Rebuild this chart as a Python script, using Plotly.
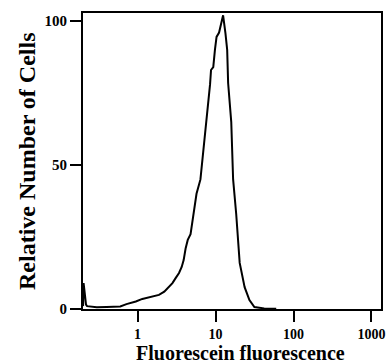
import math
import plotly.graph_objects as go

# Fluorescence histogram (x: fluorescein intensity, log scale; y: relative cell number)
fluorescence = [0.200, 0.203, 0.207, 0.212, 0.218, 0.225, 0.25, 0.3, 0.4, 0.5, 0.6,
                0.72, 0.8, 0.95, 1.15, 1.4, 1.65, 1.88, 2.2, 2.52, 2.8, 3.09, 3.4,
                3.68, 3.9, 4.13, 4.4, 4.78, 5.22, 5.7, 6.4, 6.98, 7.7, 8.25, 8.5,
                8.75, 9.35, 9.82, 10.3, 11.1, 12.2, 12.5, 13.4, 14.1, 14.5, 15.5,
                15.9, 16.8, 18.4, 20.4, 23.6, 27.2, 31.5, 42, 60]
rel_cells = [1.0, 9.0, 7.0, 3.0, 1.5, 1.0, 0.8, 0.6, 0.7, 0.8, 0.9,
             1.7, 2.0, 2.6, 3.5, 4.0, 4.5, 4.9, 6.0, 7.7, 9.0, 10.8, 12.5,
             14.6, 17.0, 21.0, 24.0, 26.0, 33.0, 40.0, 45.0, 55.0, 67.0, 72.6, 78.0,
             83.0, 84.0, 90.0, 94.5, 96.0, 101.0, 102.0, 95.7, 90.0, 78.5, 69.0,
             65.0, 45.0, 33.0, 16.0, 7.6, 3.1, 0.7, 0.2, 0.1]

x_ticks = [1, 10, 100, 1000]
x_tick_text = ["1", "10", "100", "1000"]
y_ticks = [0, 50, 100]
y_tick_text = ["0", "50", "100"]
x_title = "Fluorescein fluorescence"
y_title = "Relative Number of Cells"

X_RANGE = [-0.700, 3.122]   # log10 units
Y_RANGE = [0, 102.8]

x_minor = [m * d for d in (0.1, 1, 10, 100) for m in range(2, 10) if m * d >= 0.3]
y_minor = [i * 6.25 for i in range(17)]

FONT = "Liberation Serif"
PLOT_W, PLOT_H = 389 - 83 - 4, 364 - 13 - 55
PX_PER_DECADE = PLOT_W / (X_RANGE[1] - X_RANGE[0])
PX_PER_UNIT = PLOT_H / (Y_RANGE[1] - Y_RANGE[0])


def x_tick_len(v):
    if v in x_ticks:
        return 14
    if abs(math.log10(v) % 1 - math.log10(5)) < 1e-6:
        return 8
    return 5


def y_tick_len(v):
    if v % 50 == 0:
        return 11
    if v % 25 == 0:
        return 13
    if v % 12.5 == 0:
        return 8
    return 4


# tick marks drawn as line-shaped markers (not clipped) centred half a length outside the axis
xt_vals = x_ticks + x_minor
xt_len = [x_tick_len(v) for v in xt_vals]
xt_y = [Y_RANGE[0] - L / 2 / PX_PER_UNIT for L in xt_len]

yt_vals = y_minor
yt_len = [y_tick_len(v) for v in yt_vals]
yt_x = [10 ** (X_RANGE[0] - L / 2 / PX_PER_DECADE) for L in yt_len]

fig = go.Figure()
fig.add_trace(go.Scatter(x=fluorescence, y=rel_cells, mode="lines",
                         line=dict(color="black", width=2), showlegend=False))
fig.add_trace(go.Scatter(x=xt_vals, y=xt_y, mode="markers", cliponaxis=False,
                         hoverinfo="skip", showlegend=False,
                         marker=dict(symbol="line-ns-open", size=xt_len, color="black",
                                     line=dict(color="black", width=2))))
fig.add_trace(go.Scatter(x=yt_x, y=yt_vals, mode="markers", cliponaxis=False,
                         hoverinfo="skip", showlegend=False,
                         marker=dict(symbol="line-ew-open", size=yt_len, color="black",
                                     line=dict(color="black", width=2))))

fig.update_layout(
    template="simple_white",
    width=389, height=364,
    margin=dict(l=83, r=4, t=13, b=55),
    paper_bgcolor="white", plot_bgcolor="white",
    font=dict(family=FONT, color="black"),
    xaxis=dict(
        type="log", range=X_RANGE,
        showline=True, linewidth=2, linecolor="black", mirror=True,
        showgrid=False, zeroline=False,
        tickvals=x_ticks, ticktext=x_tick_text,
        ticks="outside", ticklen=11, tickwidth=2, tickcolor="black",
        tickfont=dict(family=FONT, size=14, weight="bold"),
    ),
    yaxis=dict(
        range=Y_RANGE,
        showline=True, linewidth=2, linecolor="black", mirror=True,
        showgrid=False, zeroline=False,
        tickvals=y_ticks, ticktext=y_tick_text,
        ticks="outside", ticklen=11, tickwidth=2, tickcolor="black",
        tickfont=dict(family=FONT, size=15, weight="bold"),
    ),
    annotations=[
        dict(text=x_title, xref="paper", yref="paper", x=0.5, y=-0.149,
             xanchor="center", yanchor="middle", showarrow=False,
             xshift=8, font=dict(family=FONT, size=20, weight="bold")),
        dict(text=y_title, xref="paper", yref="paper", x=0, y=0.5,
             xanchor="center", yanchor="middle", showarrow=False, textangle=-90,
             xshift=-56, font=dict(family=FONT, size=24, weight="bold")),
    ],
)

fig.write_html("out.html")
